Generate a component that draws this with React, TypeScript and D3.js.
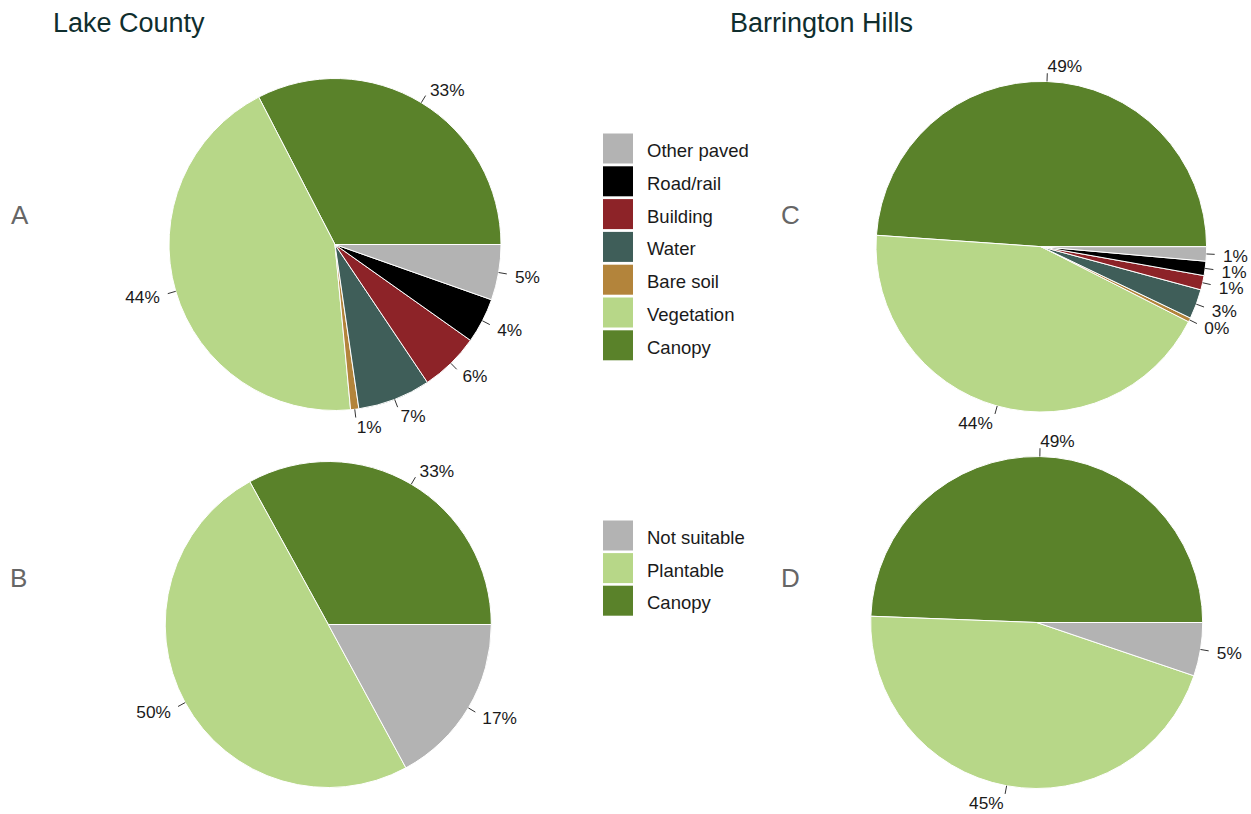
import React from "react";
import * as d3 from "d3";

const landCats = ["Canopy", "Vegetation", "Bare soil", "Water", "Building", "Road/rail", "Other paved"];
const lakeLand = [32.6, 43.9, 0.8, 7.1, 5.8, 4.4, 5.4];
const barrLand = [48.9, 43.6, 0.4, 2.9, 1.4, 1.4, 1.4];

const plantCats = ["Canopy", "Plantable", "Not suitable"];
const lakePlant = [33.0, 49.9, 17.1];
const barrPlant = [49.4, 45.4, 5.2];

const legendLand = ["Other paved", "Road/rail", "Building", "Water", "Bare soil", "Vegetation", "Canopy"];
const legendPlant = ["Not suitable", "Plantable", "Canopy"];

const colors: Record<string, string> = {
  "Other paved": "#b3b3b3",
  "Road/rail": "#000000",
  "Building": "#8d2328",
  "Water": "#3f5e59",
  "Bare soil": "#b3843b",
  "Vegetation": "#b7d788",
  "Canopy": "#5a822a",
  "Not suitable": "#b3b3b3",
  "Plantable": "#b7d788",
};

const FONT = "'Liberation Sans', Arial, sans-serif";

function Pie({ cats, values, cx, cy, r }: { cats: string[]; values: number[]; cx: number; cy: number; r: number }) {
  const data = cats.map((c, i) => ({ c, v: values[i] }));
  const pie = d3
    .pie<{ c: string; v: number }>()
    .value((d) => d.v)
    .sort(null)
    .startAngle(Math.PI / 2)
    .endAngle(Math.PI / 2 - 2 * Math.PI);
  const arcs = pie(data);
  const arc = d3.arc<any>().innerRadius(0).outerRadius(r);
  return (
    <g transform={`translate(${cx},${cy})`}>
      {arcs.map((a, i) => (
        <path key={i} d={arc(a) as string} fill={colors[a.data.c]} stroke="#ffffff" strokeWidth={1} />
      ))}
      {arcs.map((a, i) => {
        const m = (a.startAngle + a.endAngle) / 2;
        const sx = Math.sin(m), sy = -Math.cos(m);
        const left = sx < 0;
        return (
          <g key={"l" + i}>
            <line x1={sx * r} y1={sy * r} x2={sx * r * 1.05} y2={sy * r * 1.05} stroke="#333" strokeWidth={1} />
            <text
              x={sx * r * 1.1}
              y={sy * r * 1.1}
              dy="0.42em"
              textAnchor={left ? "end" : "start"}
              fontSize={17.3}
              fontFamily={FONT}
              fill="#1a1a1a"
            >
              {Math.round(a.data.v) + "%"}
            </text>
          </g>
        );
      })}
    </g>
  );
}

function Legend({ items, x, y, pitch }: { items: string[]; x: number; y: number; pitch: number }) {
  return (
    <g>
      {items.map((it, i) => (
        <g key={i}>
          <rect x={x} y={y + i * pitch} width={30} height={30} fill={colors[it]} />
          <text x={x + 44} y={y + i * pitch + 23.5} fontSize={18.5} fontFamily={FONT} fill="#1a1a1a">
            {it}
          </text>
        </g>
      ))}
    </g>
  );
}

export default function App() {
  return (
    <svg
      width={1251}
      height={814}
      style={{ position: "absolute", left: 0, top: 0, background: "#fff" }}
    >
      <text x={53} y={32} fontSize={27} fontFamily={FONT} fill="#0f2e2e">Lake County</text>
      <text x={730} y={32} fontSize={27} fontFamily={FONT} fill="#0f2e2e">Barrington Hills</text>

      <text x={11} y={224} fontSize={26} fontFamily={FONT} fill="#666">A</text>
      <text x={10} y={587} fontSize={26} fontFamily={FONT} fill="#666">B</text>
      <text x={781} y={224} fontSize={26} fontFamily={FONT} fill="#666">C</text>
      <text x={781} y={587} fontSize={26} fontFamily={FONT} fill="#666">D</text>

      <Pie cats={landCats} values={lakeLand} cx={335} cy={244.5} r={166} />
      <Pie cats={plantCats} values={lakePlant} cx={328.3} cy={624.5} r={163} />
      <Pie cats={landCats} values={barrLand} cx={1041.3} cy={246.7} r={165.3} />
      <Pie cats={plantCats} values={barrPlant} cx={1036.7} cy={622.5} r={166} />

      <Legend items={legendLand} x={603} y={133.5} pitch={32.8} />
      <Legend items={legendPlant} x={603} y={520.5} pitch={32.6} />
    </svg>
  );
}
